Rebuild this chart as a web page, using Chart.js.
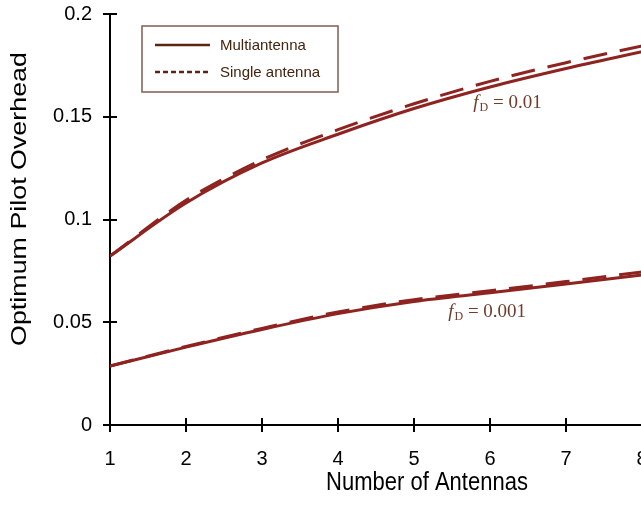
<!DOCTYPE html>
<html>
<head>
<meta charset="utf-8">
<script src="https://cdn.jsdelivr.net/npm/chart.js@4/dist/chart.umd.min.js"></script>
<style>
  html, body { margin: 0; padding: 0; background: #fff; overflow: hidden; }
  canvas { display: block; }
</style>
</head>
<body>
<canvas id="overheadChart" width="660" height="506"></canvas>
<script>
// Numero di antenne (asse x)
const antennas = [1, 2, 3, 4, 5, 6, 7, 8];

// fD = 0.01
const multiHigh  = [0.0822, 0.1080, 0.1275, 0.1415, 0.1540, 0.1645, 0.1735, 0.1817];
const singleHigh = [0.0822, 0.1093, 0.1290, 0.1437, 0.1563, 0.1672, 0.1763, 0.1845];
// fD = 0.001
const multiLow   = [0.0287, 0.0379, 0.0465, 0.0542, 0.0601, 0.0643, 0.0686, 0.0730];
const singleLow  = [0.0287, 0.0382, 0.0470, 0.0550, 0.0610, 0.0653, 0.0698, 0.0745];

const yTicks = [0, 0.05, 0.1, 0.15, 0.2];
const legendLabels = ['Multiantenna', 'Single antenna'];
const curveNotes = [
    { x: 5.78, y: 0.1543, text: '= 0.01' },
    { x: 5.45, y: 0.0526, text: '= 0.001' }
];

const CURVE = '#8e2320';
const LEGEND_LINE = '#5c2412';

function toPoints(values) {
    return antennas.map((a, i) => ({ x: a, y: values[i] }));
}

function curve(label, values, dashed) {
    return {
        label: label,
        data: toPoints(values),
        borderColor: CURVE,
        borderWidth: 3,
        borderDash: dashed ? [24, 13] : [],
        pointRadius: 0,
        cubicInterpolationMode: 'monotone',
        fill: false
    };
}

// Disegna tacche, legenda, titoli e annotazioni
const decorPlugin = {
    id: 'decor',
    afterDraw(chart) {
        const ctx = chart.ctx;
        const xs = chart.scales.x;
        const ys = chart.scales.y;
        const area = chart.chartArea;

        ctx.save();
        // tacche che attraversano gli assi
        ctx.strokeStyle = '#000';
        ctx.lineWidth = 2;
        ys.ticks.forEach(t => {
            const py = Math.round(ys.getPixelForValue(t.value));
            ctx.beginPath();
            ctx.moveTo(area.left - 7, py);
            ctx.lineTo(area.left + 7, py);
            ctx.stroke();
        });
        xs.ticks.forEach(t => {
            const px = Math.round(xs.getPixelForValue(t.value));
            ctx.beginPath();
            ctx.moveTo(px, area.bottom - 7);
            ctx.lineTo(px, area.bottom + 7);
            ctx.stroke();
        });

        // legenda
        ctx.strokeStyle = '#7f5e50';
        ctx.lineWidth = 1.5;
        ctx.strokeRect(142, 26, 196, 66);
        ctx.strokeStyle = LEGEND_LINE;
        ctx.lineWidth = 2.5;
        ctx.beginPath();
        ctx.moveTo(155, 45);
        ctx.lineTo(210, 45);
        ctx.stroke();
        ctx.setLineDash([5, 3]);
        ctx.beginPath();
        ctx.moveTo(155, 72);
        ctx.lineTo(210, 72);
        ctx.stroke();
        ctx.setLineDash([]);
        ctx.fillStyle = '#45230f';
        ctx.font = '15px "Liberation Sans", Arial, sans-serif';
        ctx.textBaseline = 'middle';
        ctx.textAlign = 'left';
        ctx.fillText(legendLabels[0], 220, 46);
        ctx.fillText(legendLabels[1], 220, 73);

        // annotazioni fD
        ctx.fillStyle = '#6e3c2c';
        ctx.textBaseline = 'alphabetic';
        curveNotes.forEach(n => {
            const px = xs.getPixelForValue(n.x);
            const py = ys.getPixelForValue(n.y);
            ctx.font = 'italic 19px "Liberation Serif", "Times New Roman", serif';
            ctx.fillText('f', px, py);
            const fw = ctx.measureText('f').width;
            ctx.font = '12px "Liberation Serif", "Times New Roman", serif';
            ctx.fillText('D', px + fw + 1, py + 3);
            const dw = ctx.measureText('D').width;
            ctx.font = '19px "Liberation Serif", "Times New Roman", serif';
            ctx.fillText(' ' + n.text, px + fw + dw + 1, py);
        });

        // titoli assi (l'originale è leggermente stirato in verticale)
        ctx.fillStyle = '#000';
        ctx.font = '22px "Liberation Sans", Arial, sans-serif';
        ctx.textAlign = 'center';
        ctx.textBaseline = 'alphabetic';
        ctx.save();
        ctx.translate(427, 490);
        ctx.scale(1, 1.15);
        ctx.fillText('Number of Antennas', 0, 0);
        ctx.restore();
        ctx.translate(26, 199);
        ctx.rotate(-Math.PI / 2);
        ctx.scale(1.22, 1);
        ctx.fillText('Optimum Pilot Overhead', 0, 0);
        ctx.restore();
    }
};

function noScalePadding(s) {
    s.paddingTop = 0;
    s.paddingBottom = 0;
    s.paddingLeft = 0;
    s.paddingRight = 0;
}

const chart = new Chart(document.getElementById('overheadChart'), {
    type: 'line',
    data: {
        datasets: [
            curve('Multiantenna', multiHigh, false),
            curve('Single antenna', singleHigh, true),
            curve('Multiantenna', multiLow, false),
            curve('Single antenna', singleLow, true)
        ]
    },
    options: {
        responsive: false,
        animation: false,
        devicePixelRatio: 1,
        layout: { padding: { top: 14, right: 18, left: 0, bottom: 0 } },
        plugins: {
            legend: { display: false },
            tooltip: { enabled: false }
        },
        scales: {
            x: {
                type: 'linear',
                min: 1,
                max: 8,
                afterFit: s => { s.height = 81; noScalePadding(s); },
                grid: { display: false, drawTicks: false },
                border: { display: true, color: '#000', width: 2 },
                ticks: {
                    stepSize: 1,
                    padding: 22,
                    color: '#000',
                    font: { family: '"Liberation Sans", Arial, sans-serif', size: 20 }
                }
            },
            y: {
                min: 0,
                max: 0.2,
                afterFit: s => { s.width = 110; noScalePadding(s); },
                afterBuildTicks: s => { s.ticks = yTicks.map(v => ({ value: v })); },
                grid: { display: false, drawTicks: false },
                border: { display: true, color: '#000', width: 2 },
                ticks: {
                    padding: 18,
                    color: '#000',
                    font: { family: '"Liberation Sans", Arial, sans-serif', size: 20 },
                    callback: v => String(+v.toFixed(2))
                }
            }
        }
    },
    plugins: [decorPlugin]
});
</script>
</body>
</html>
